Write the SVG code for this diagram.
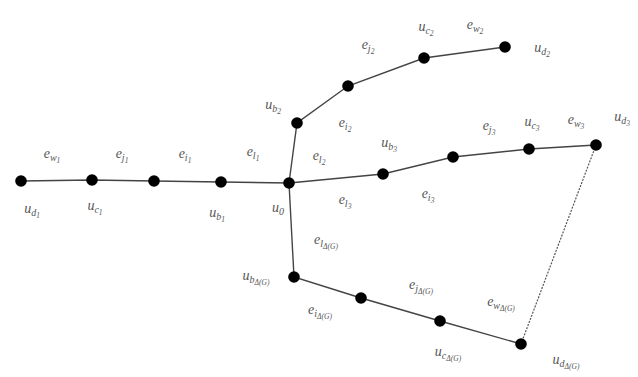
<svg xmlns="http://www.w3.org/2000/svg" width="638" height="377" viewBox="0 0 638 377">
<style>
.e{stroke:#444;stroke-width:1.4;fill:none}
.d{stroke:#555;stroke-width:1.2;fill:none;stroke-dasharray:2 1.3}
.n{fill:#000}
.t{font-family:"Liberation Serif",serif;font-style:italic;font-size:14px;fill:#555;text-anchor:middle}
.s1{font-size:10px}
.s2{font-size:7.5px}
</style>
<rect width="638" height="377" fill="#fff"/>
<g id="connectors">
<polyline class="e" points="21,181 92,180 154,181 221,182 289,183"/>
<polyline class="e" points="289,183 297,123 348,86 424,58 505,47"/>
<polyline class="e" points="289,183 383,174 453,157 529,149 596,145"/>
<polyline class="e" points="289,183 294,277 361,298 440,321 521,344"/>
<line class="d" x1="596" y1="145" x2="521" y2="344"/>
</g>
<g id="n_ud1"><circle class="n" cx="21" cy="181" r="5.8"/></g>
<g id="n_uc1"><circle class="n" cx="92" cy="180" r="5.8"/></g>
<g id="n_v1"><circle class="n" cx="154" cy="181" r="5.8"/></g>
<g id="n_ub1"><circle class="n" cx="221" cy="182" r="5.8"/></g>
<g id="n_u0"><circle class="n" cx="289" cy="183" r="5.8"/></g>
<g id="n_ub2"><circle class="n" cx="297" cy="123" r="5.8"/></g>
<g id="n_v2"><circle class="n" cx="348" cy="86" r="5.8"/></g>
<g id="n_uc2"><circle class="n" cx="424" cy="58" r="5.8"/></g>
<g id="n_ud2"><circle class="n" cx="505" cy="47" r="5.8"/></g>
<g id="n_ub3"><circle class="n" cx="383" cy="174" r="5.8"/></g>
<g id="n_v3"><circle class="n" cx="453" cy="157" r="5.8"/></g>
<g id="n_uc3"><circle class="n" cx="529" cy="149" r="5.8"/></g>
<g id="n_ud3"><circle class="n" cx="596" cy="145" r="5.8"/></g>
<g id="n_ubD"><circle class="n" cx="294" cy="277" r="5.8"/></g>
<g id="n_vD"><circle class="n" cx="361" cy="298" r="5.8"/></g>
<g id="n_ucD"><circle class="n" cx="440" cy="321" r="5.8"/></g>
<g id="n_udD"><circle class="n" cx="521" cy="344" r="5.8"/></g>
<g id="labels">
<text class="t" x="52" y="158">e<tspan class="s1" dy="3">w</tspan><tspan class="s2" dy="2">1</tspan></text>
<text class="t" x="122" y="158">e<tspan class="s1" dy="3">j</tspan><tspan class="s2" dy="2">1</tspan></text>
<text class="t" x="185" y="158">e<tspan class="s1" dy="3">i</tspan><tspan class="s2" dy="2">1</tspan></text>
<text class="t" x="253" y="156">e<tspan class="s1" dy="3">l</tspan><tspan class="s2" dy="2">1</tspan></text>
<text class="t" x="32" y="213">u<tspan class="s1" dy="3">d</tspan><tspan class="s2" dy="2">1</tspan></text>
<text class="t" x="95" y="210">u<tspan class="s1" dy="3">c</tspan><tspan class="s2" dy="2">1</tspan></text>
<text class="t" x="217" y="217">u<tspan class="s1" dy="3">b</tspan><tspan class="s2" dy="2">1</tspan></text>
<text class="t" x="278" y="212">u<tspan class="s1" dy="3">0</tspan></text>
<text class="t" x="273" y="109">u<tspan class="s1" dy="3">b</tspan><tspan class="s2" dy="2">2</tspan></text>
<text class="t" x="368" y="49">e<tspan class="s1" dy="3">j</tspan><tspan class="s2" dy="2">2</tspan></text>
<text class="t" x="426" y="31">u<tspan class="s1" dy="3">c</tspan><tspan class="s2" dy="2">2</tspan></text>
<text class="t" x="475" y="29">e<tspan class="s1" dy="3">w</tspan><tspan class="s2" dy="2">2</tspan></text>
<text class="t" x="542" y="52">u<tspan class="s1" dy="3">d</tspan><tspan class="s2" dy="2">2</tspan></text>
<text class="t" x="345" y="127">e<tspan class="s1" dy="3">i</tspan><tspan class="s2" dy="2">2</tspan></text>
<text class="t" x="319" y="160">e<tspan class="s1" dy="3">l</tspan><tspan class="s2" dy="2">2</tspan></text>
<text class="t" x="389" y="147">u<tspan class="s1" dy="3">b</tspan><tspan class="s2" dy="2">3</tspan></text>
<text class="t" x="489" y="130">e<tspan class="s1" dy="3">j</tspan><tspan class="s2" dy="2">3</tspan></text>
<text class="t" x="532" y="126">u<tspan class="s1" dy="3">c</tspan><tspan class="s2" dy="2">3</tspan></text>
<text class="t" x="576" y="124">e<tspan class="s1" dy="3">w</tspan><tspan class="s2" dy="2">3</tspan></text>
<text class="t" x="622" y="121">u<tspan class="s1" dy="3">d</tspan><tspan class="s2" dy="2">3</tspan></text>
<text class="t" x="345" y="204">e<tspan class="s1" dy="3">l</tspan><tspan class="s2" dy="2">3</tspan></text>
<text class="t" x="428" y="198">e<tspan class="s1" dy="3">i</tspan><tspan class="s2" dy="2">3</tspan></text>
<text class="t" x="326" y="244">e<tspan class="s1" dy="3">l</tspan><tspan class="s2" dy="2">Δ(G)</tspan></text>
<text class="t" x="256" y="280">u<tspan class="s1" dy="3">b</tspan><tspan class="s2" dy="2">Δ(G)</tspan></text>
<text class="t" x="320" y="314">e<tspan class="s1" dy="3">i</tspan><tspan class="s2" dy="2">Δ(G)</tspan></text>
<text class="t" x="421" y="289">e<tspan class="s1" dy="3">j</tspan><tspan class="s2" dy="2">Δ(G)</tspan></text>
<text class="t" x="501" y="306">e<tspan class="s1" dy="3">w</tspan><tspan class="s2" dy="2">Δ(G)</tspan></text>
<text class="t" x="448" y="356">u<tspan class="s1" dy="3">c</tspan><tspan class="s2" dy="2">Δ(G)</tspan></text>
<text class="t" x="566" y="364">u<tspan class="s1" dy="3">d</tspan><tspan class="s2" dy="2">Δ(G)</tspan></text>
</g>
</svg>
